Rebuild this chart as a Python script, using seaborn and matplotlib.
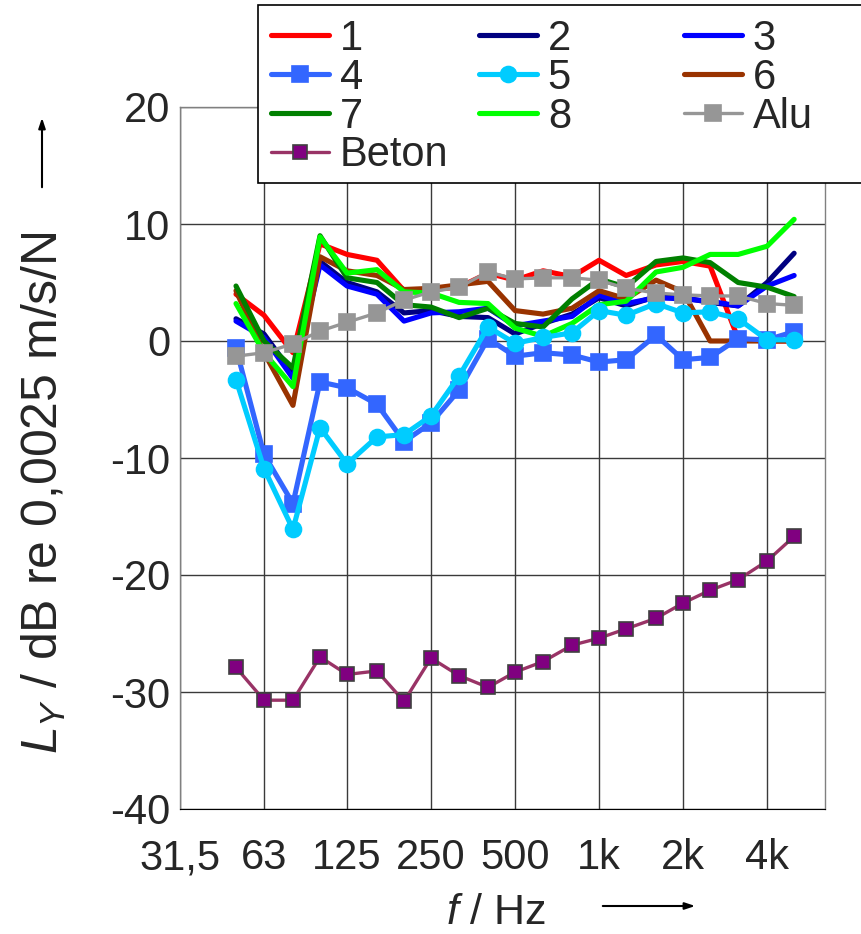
import numpy as np
import pandas as pd
import matplotlib
matplotlib.use("Agg")
import matplotlib.pyplot as plt
from matplotlib.patches import Rectangle
from matplotlib.ticker import NullLocator
import seaborn as sns

# ---------------- data ----------------
freq_hz = [50, 63, 80, 100, 125, 160, 200, 250, 315, 400, 500, 630, 800,
           1000, 1250, 1600, 2000, 2500, 3150, 4000, 5000]

s1 = [4.0, 2.2, -1.0, 8.3, 7.4, 6.9, 4.3, 4.4, 4.6, 5.8, 5.2, 6.0, 5.5,
      6.9, 5.6, 6.5, 6.8, 6.4, 0.2, 0.0, 0.0]
s2 = [1.9, 0.6, -2.8, 6.8, 5.0, 4.2, 2.4, 2.6, 2.1, 2.0, 0.6, 1.5, 2.3,
      3.7, 3.0, 3.8, 3.7, 3.3, 3.0, 5.0, 7.5]
s3 = [1.7, 0.3, -3.2, 6.5, 4.7, 4.0, 1.7, 2.4, 2.5, 2.8, 1.3, 1.7, 2.1,
      3.9, 3.2, 3.7, 3.6, 3.4, 3.0, 4.7, 5.6]
s4 = [-0.6, -9.7, -13.9, -3.5, -4.0, -5.4, -8.6, -7.0, -4.2, 0.2, -1.3, -1.0, -1.2,
      -1.8, -1.6, 0.5, -1.6, -1.4, 0.2, 0.1, 0.8]
s5 = [-3.3, -10.9, -16.1, -7.4, -10.5, -8.2, -8.0, -6.4, -3.0, 1.2, -0.2, 0.3, 0.7,
      2.6, 2.2, 3.2, 2.4, 2.5, 1.9, 0.1, 0.1]
s6 = [4.3, -1.0, -5.5, 7.2, 6.0, 5.6, 4.4, 4.5, 4.8, 5.1, 2.6, 2.3, 2.8,
      4.3, 3.6, 5.2, 4.2, 0.0, 0.0, 0.0, 0.0]
s7 = [4.7, 0.0, -2.3, 9.0, 5.4, 5.0, 3.1, 2.9, 2.0, 2.8, 1.5, 1.2, 3.6,
      5.3, 4.6, 6.8, 7.1, 6.7, 5.0, 4.6, 3.8]
s8 = [3.2, -1.0, -3.9, 8.9, 5.8, 6.1, 4.2, 4.1, 3.3, 3.2, 1.1, 0.4, 1.5,
      3.1, 3.4, 5.9, 6.3, 7.4, 7.4, 8.1, 10.4]
alu = [-1.3, -1.0, -0.25, 0.85, 1.6, 2.4, 3.5, 4.2, 4.6, 5.9, 5.3, 5.4, 5.4,
       5.2, 4.5, 4.1, 3.95, 3.85, 3.85, 3.2, 3.05]
beton = [-27.9, -30.7, -30.7, -27.0, -28.5, -28.2, -30.8, -27.1, -28.6, -29.6, -28.3, -27.4, -26.0,
         -25.4, -24.6, -23.7, -22.4, -21.3, -20.4, -18.8, -16.7]

tick_freqs = [31.5, 63, 125, 250, 500, 1000, 2000, 4000]
tick_labels = ["31,5", "63", "125", "250", "500", "1k", "2k", "4k"]
y_ticks = [20, 10, 0, -10, -20, -30, -40]

# ---------------- style ----------------
sns.set_style("white")
FONT = ["Liberation Sans", "DejaVu Sans"]
plt.rcParams["font.family"] = FONT
plt.rcParams["axes.unicode_minus"] = False
plt.rcParams["mathtext.fontset"] = "custom"
plt.rcParams["mathtext.it"] = "Liberation Sans:italic"
plt.rcParams["mathtext.rm"] = "Liberation Sans"
FS = 30

W, H = 862, 934
fig = plt.figure(figsize=(W / 100, H / 100), dpi=100)
ax = fig.add_axes([180 / W, 1 - 809 / H, 645 / W, 702 / H])

series = [
    ("1", s1, "#FF0000", None, 0, 3.7, None, 2),
    ("2", s2, "#000080", None, 0, 3.7, None, 2),
    ("3", s3, "#0000FF", None, 0, 3.7, None, 2),
    ("6", s6, "#993300", None, 0, 3.7, None, 2),
    ("7", s7, "#008000", None, 0, 3.7, None, 2),
    ("8", s8, "#00FF00", None, 0, 3.7, None, 2),
    ("4", s4, "#3366FF", "s", 11, 3.7, "#3366FF", 3),
    ("5", s5, "#00CCFF", "o", 11.5, 3.7, "#00CCFF", 3),
    ("Alu", alu, "#969696", "s", 11.5, 2.4, "#969696", 4),
    ("Beton", beton, "#993366", "s", 10, 2.4, "#404040", 5),
]

for name, vals, col, mk, ms, lw, mec, z in series:
    kw = dict(color=col, linewidth=lw, label=name, zorder=z)
    if mk is not None:
        kw.update(marker=mk, markersize=ms, markeredgecolor=mec, markeredgewidth=1.2)
        if name == "Beton":
            kw.update(markerfacecolor="#800080")
    sns.lineplot(x=freq_hz, y=vals, ax=ax, **kw)

if ax.get_legend() is not None:
    ax.get_legend().remove()

ax.set_xscale("log")
ax.set_xlim(31.5, 6450)
ax.set_ylim(-40, 20)
ax.set_xticks(tick_freqs)
ax.set_xticklabels(tick_labels)
ax.xaxis.set_minor_locator(NullLocator())
ax.set_yticks(y_ticks)
ax.set_yticklabels([str(v) for v in y_ticks])
ax.grid(True, which="major", color="#3a3a3a", linewidth=1.0)
ax.set_axisbelow(True)
for s in ["left", "right", "top"]:
    ax.spines[s].set_color("#808080")
    ax.spines[s].set_linewidth(1.0)
ax.spines["bottom"].set_color("#000000")
ax.tick_params(axis="y", direction="out", length=5, width=1, color="#404040",
               labelsize=FS, pad=2)
ax.tick_params(axis="x", direction="out", length=0, width=1, color="#404040",
               labelsize=FS, pad=21)
ax.set_xlabel("")
ax.set_ylabel("")

# ---------------- legend ----------------
h, l = ax.get_legend_handles_labels()
hd = dict(zip(l, h))
cols = [["1", "4", "7", "Beton"], ["2", "5", "8"], ["3", "6", "Alu"]]
col_x = [271, 479, 684]
frame = Rectangle((258 / W, 1 - 183 / H), 700 / W, 178 / H, transform=fig.transFigure,
                  facecolor="white", edgecolor="black", linewidth=1.2, zorder=4)
fig.add_artist(frame)
for cx, names in zip(col_x, cols):
    leg = fig.legend([hd[n] for n in names], names, loc="upper left",
                     bbox_to_anchor=(cx / W, 1 - 19 / H), frameon=False,
                     fontsize=FS, handlelength=1.4, handletextpad=0.25,
                     labelspacing=-0.03, borderpad=0, borderaxespad=0)
    leg.set_zorder(6)

# ---------------- axis labels ----------------
fig.text(44 / W, 1 - 493 / H, r"$L_Y$ / dB re 0,0025 m/s/N", rotation=90,
         ha="center", va="center", fontsize=36)
fig.text(496 / W, 1 - 913 / H, r"$f$ / Hz", ha="center", va="center", fontsize=31)
ax.annotate("", xy=(42 / W, 1 - 115 / H), xytext=(42 / W, 1 - 190 / H),
            xycoords="figure fraction", textcoords="figure fraction",
            arrowprops=dict(arrowstyle="-|>,head_length=0.6,head_width=0.2",
                            color="black", lw=1.5))
ax.annotate("", xy=(698 / W, 1 - 906 / H), xytext=(600 / W, 1 - 906 / H),
            xycoords="figure fraction", textcoords="figure fraction",
            arrowprops=dict(arrowstyle="-|>,head_length=0.6,head_width=0.2",
                            color="black", lw=1.5))

fig.savefig("out.png", dpi=100)
